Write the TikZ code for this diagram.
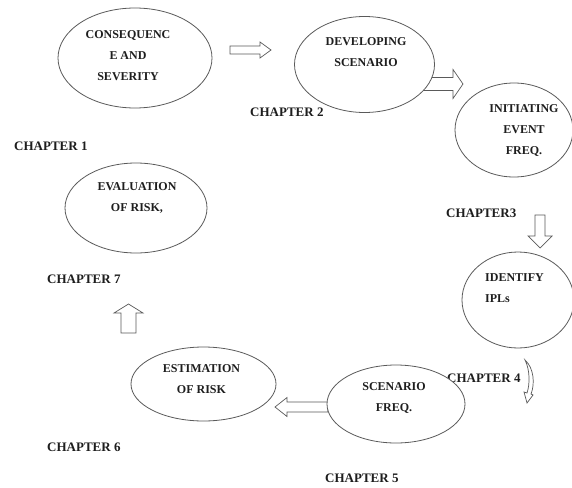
\documentclass[tikz,border=0pt]{standalone}
\usepackage{fontspec}
\setmainfont{Liberation Serif}
\usetikzlibrary{shapes.geometric}
\definecolor{lc}{HTML}{5A5A5A}
\definecolor{tc}{HTML}{1E1E1E}
\begin{document}
\begin{tikzpicture}[x=1pt,y=-1pt,
 bub/.style={ellipse,draw=lc,line width=0.8pt,fill=white,inner sep=0pt},
 btxt/.style={font=\fontsize{12}{21}\selectfont\bfseries,text=tc,align=center,inner sep=0pt},
 chap/.style={font=\fontsize{13}{15}\selectfont\bfseries,text=tc,anchor=west,inner sep=0pt},
 barrow/.style={draw=lc,line width=0.7pt,fill=white,line join=miter}]
\useasboundingbox[fill=white] (0,0) rectangle (572,487);
% chapter labels
\node[chap] (c1) at (14,146) {CHAPTER 1};
\node[chap] (c2) at (250,112) {CHAPTER 2};
\node[chap] (c3) at (446,213) {CHAPTER3};
\node[chap] (c4) at (447,378) {CHAPTER 4};
\node[chap] (c5) at (325,478) {CHAPTER 5};
\node[chap] (c6) at (47,447) {CHAPTER 6};
\node[chap] (c7) at (47,279) {CHAPTER 7};
% block arrows
\draw[barrow] (230,46) -- (260,46) -- (260,42) -- (271,50) -- (260,58) -- (260,54) -- (230,54) -- cycle;
\draw[barrow] (423,77.5) -- (453,77.5) -- (453,69.5) -- (463,84) -- (453,98.5) -- (453,90.5) -- (423,90.5) -- cycle;
\draw[barrow] (535,215) -- (545,215) -- (545,236) -- (552,236) -- (540,248) -- (528,236) -- (535,236) -- cycle;
\draw[barrow] (328,402) -- (287,402) -- (287,397.5) -- (275,407) -- (287,416.5) -- (287,412) -- (328,412) -- cycle;
\draw[barrow] (121,333) -- (121,313) -- (114,313) -- (128.5,304) -- (143,313) -- (136,313) -- (136,333) -- cycle;
\draw[barrow] (525,360) .. controls (534,368) and (535,384) .. (531,394) -- (533,395) -- (527,403) -- (524,392) -- (527,393) .. controls (530,384) and (530,370) .. (525,360) -- cycle;
% ellipses
\node[bub,minimum width=154pt,minimum height=100pt] (e1) at (135,58) {};
\node[bub,minimum width=140pt,minimum height=96pt] (e2) at (364.5,64.5) {};
\node[bub,minimum width=118pt,minimum height=94pt] (e3) at (514,130) {};
\node[bub,minimum width=112pt,minimum height=96pt] (e4) at (518,300) {};
\node[bub,minimum width=138pt,minimum height=78pt] (e5) at (396,404) {};
\node[bub,minimum width=145pt,minimum height=74pt] (e6) at (203.5,384) {};
\node[bub,minimum width=142pt,minimum height=90pt] (e7) at (136,208) {};
% ellipse texts
\node[btxt] (t1) at (128,55.5) {CONSEQUENC\\E AND\\SEVERITY};
\node[btxt] (t2) at (366,52.5) {DEVELOPING\\SCENARIO};
\node[btxt] (t3) at (524,130) {INITIATING\\EVENT\\FREQ.};
\node[btxt,align=left,anchor=west] (t4) at (485,288) {IDENTIFY\\IPLs};
\node[btxt] (t5) at (394,397.5) {SCENARIO\\FREQ.};
\node[btxt] (t6) at (201.5,379) {ESTIMATION\\OF RISK};
\node[btxt] (t7) at (137,198) {EVALUATION\\OF RISK,};
\end{tikzpicture}
\end{document}
